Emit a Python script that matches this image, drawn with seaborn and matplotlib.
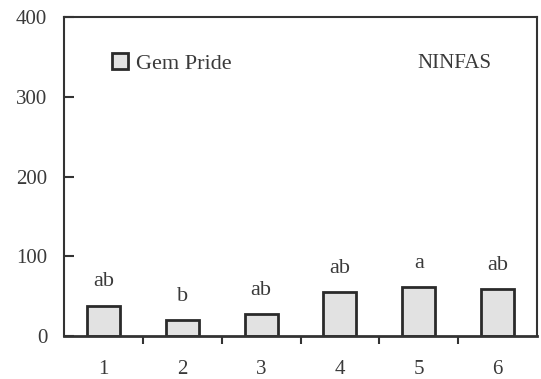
import matplotlib
matplotlib.use("Agg")
import matplotlib.pyplot as plt
import seaborn as sns
import pandas as pd
from matplotlib.patches import Patch

categories = ["1", "2", "3", "4", "5", "6"]
values = [38, 20, 27, 55, 61, 59]
letters = ["ab", "b", "ab", "ab", "a", "ab"]
series_name = "Gem Pride"
panel_label = "NINFAS"
y_ticks = [0, 100, 200, 300, 400]

sns.set_theme(style="white")
plt.rcParams["font.family"] = ["Liberation Serif", "DejaVu Serif"]

df = pd.DataFrame({"cat": categories, "val": values})

fig = plt.figure(figsize=(5.41, 3.79), dpi=100)
ax = fig.add_axes([64 / 541, 1 - 336 / 379, (537 - 64) / 541, (336 - 17) / 379])

sns.barplot(data=df, x="cat", y="val", order=categories, color="#e2e2e2",
            edgecolor="#2a2a2a", linewidth=2.0, width=0.42, saturation=1, ax=ax)

for i, (v, lab) in enumerate(zip(values, letters)):
    ax.text(i, v + 30, lab, ha="center", va="center", fontsize=16, color="#3a3a3a")

ax.set_xlim(-0.5, len(categories) - 0.5)
ax.set_ylim(0, 400)
ax.set_yticks(y_ticks)
ax.set_xlabel("")
ax.set_ylabel("")

ax.set_xticks(range(len(categories)))
ax.set_xticklabels(categories)
ax.set_xticks([i + 0.5 for i in range(len(categories) - 1)], minor=True)
ax.tick_params(axis="x", which="major", length=0, pad=17, labelsize=15, colors="#3a3a3a")
ax.tick_params(axis="x", which="minor", direction="out", length=6, width=1.5,
               color="#333333", bottom=True)
ax.tick_params(axis="y", which="major", direction="in", length=7, width=1.5,
               color="#333333", pad=12, labelsize=15, left=True)
for lbl in ax.get_yticklabels():
    lbl.set_color("#3a3a3a")

for s in ax.spines.values():
    s.set_visible(True)
    s.set_color("#333333")
    s.set_linewidth(1.5)
ax.spines["bottom"].set_linewidth(2.0)

handle = Patch(facecolor="#e2e2e2", edgecolor="#2a2a2a", linewidth=2.0)
ax.legend([handle], [series_name], loc="center left", bbox_to_anchor=(0.102, 0.855),
          frameon=False, fontsize=16, handlelength=0.7, handleheight=0.7,
          handletextpad=0.35, labelcolor="#3a3a3a", borderaxespad=0, borderpad=0)

ax.text(0.904, 0.855, panel_label, transform=ax.transAxes, ha="right", va="center",
        fontsize=15, color="#3a3a3a")

fig.savefig("out.png", dpi=100)
